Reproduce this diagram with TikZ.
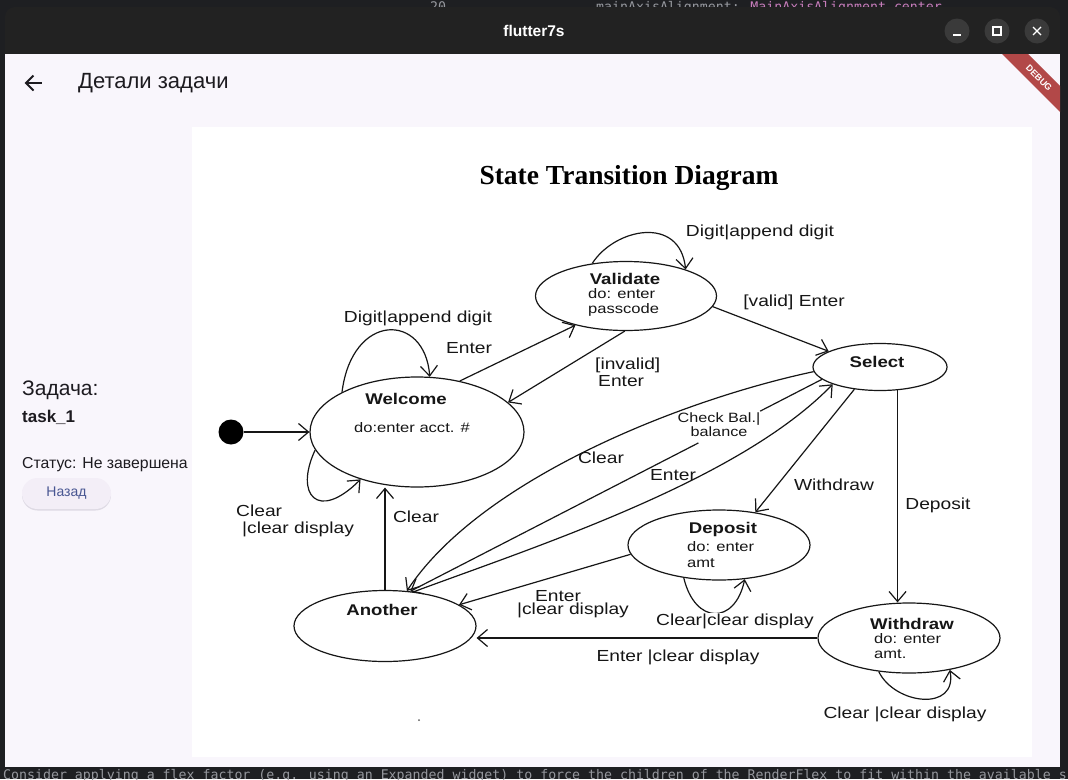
\documentclass[tikz,border=0pt]{standalone}
\usepackage{fontspec}
\setmainfont{Liberation Sans}
\newfontfamily\dgf{Liberation Sans}[FakeStretch=1.2]
\newfontfamily\ttlf{Liberation Serif}
\newfontfamily\uif{Liberation Sans}
\newfontfamily\monof{DejaVu Sans Mono}
\usetikzlibrary{shapes.geometric,arrows.meta,calc}
\definecolor{edbg}{RGB}{30,31,34}
\definecolor{tbar}{RGB}{34,34,34}
\definecolor{tbtn}{RGB}{58,58,58}
\definecolor{appbg}{RGB}{249,246,252}
\definecolor{uitext}{RGB}{29,27,32}
\definecolor{ink}{RGB}{22,22,22}
\definecolor{btnbg}{RGB}{243,238,247}
\definecolor{btnsh}{RGB}{222,218,228}
\definecolor{btntx}{RGB}{72,86,146}
\definecolor{dbg}{RGB}{178,72,72}
\definecolor{codegrey}{RGB}{150,152,158}
\definecolor{codepurple}{RGB}{199,125,187}
\begin{document}
\begin{tikzpicture}[x=1pt,y=-1pt,
  st/.style={ellipse, draw=ink, line width=1.2pt, inner sep=0pt},
  lineonly/.style={draw=ink, line width=1.2pt},
  arr/.style={draw=ink, line width=1.2pt, -{Straight Barb[length=10pt,width=17pt,line width=1.2pt]}},
  lbl/.style={font=\dgf\fontsize{16}{17}\selectfont, text=ink, inner sep=0pt},
  lblsm/.style={font=\dgf\fontsize{13.5}{14}\selectfont, text=ink, inner sep=0pt},
  sname/.style={font=\dgf\bfseries\fontsize{15.5}{17}\selectfont, text=ink, inner sep=0pt},
  sdo/.style={font=\dgf\fontsize{13.8}{15}\selectfont, text=ink, inner sep=0pt, align=left},
  uitx/.style={text=uitext, inner sep=0pt, anchor=west},
  codetx/.style={font=\monof\fontsize{13.25}{14}\selectfont, text=codegrey, inner sep=0pt, anchor=base west},
  wbtn/.style={circle, fill=tbtn, minimum size=25pt, inner sep=0pt},
]
\useasboundingbox (0,0) rectangle (1068,779);
\fill[edbg] (0,0) rectangle (1068,779);
% editor text behind the window
\begin{scope}
\clip (0,0) rectangle (1068,779);
\node[codetx] (linenum) at (430,11) {20};
\node[codetx] (codetop) at (596,11) {mainAxisAlignment: \textcolor{codepurple}{MainAxisAlignment.center}};
\node[codetx] (codebot) at (3,779) {Consider applying a flex factor (e.g. using an Expanded widget) to force the children of the RenderFlex to fit within the available s};
\end{scope}
% window
\fill[tbar, rounded corners=10pt] (5,7) rectangle (1060,70);
\fill[appbg] (5,54) rectangle (1060,767);
\node[font=\uif\bfseries\fontsize{15.5}{16}\selectfont, text=white, inner sep=0pt] (wtitle) at (534,31) {flutter7s};
\node[wbtn] (bmin) at (957,31) {};
\node[wbtn] (bmax) at (997,31) {};
\node[wbtn] (bclose) at (1037,31) {};
\draw[white, line width=1.2pt] ($(bmin)+(-4,4)$) -- ($(bmin)+(4,4)$);
\draw[white, line width=1.1pt] ($(bmax)+(-4,-4)$) rectangle ($(bmax)+(4,4)$);
\draw[white, line width=1.2pt] ($(bclose)+(-4,-4)$) -- ($(bclose)+(4,4)$);
\draw[white, line width=1.2pt] ($(bclose)+(-4,4)$) -- ($(bclose)+(4,-4)$);
% app bar
\draw[uitext, line width=1.8pt] (26,83) -- (42,83);
\draw[uitext, line width=1.8pt, line join=miter] (33.5,75.5) -- (26,83) -- (33.5,90.5);
\node[uitx, font=\uif\fontsize{22}{22}\selectfont] (apptitle) at (78,83) {Детали задачи};
% debug banner
\begin{scope}
\clip (5,54) rectangle (1060,767);
\fill[dbg] (1002,54) -- (1028,54) -- (1062,88) -- (1062,114) -- cycle;
\node[font=\uif\bfseries\fontsize{9}{10}\selectfont, text=white, rotate=-45, inner sep=0pt] (debug) at (1039,78) {DEBUG};
\end{scope}
% left panel
\node[uitx, font=\uif\fontsize{21}{21}\selectfont] (zadacha) at (22,390) {Задача:};
\node[uitx, font=\uif\bfseries\fontsize{17}{17}\selectfont] (taskname) at (22,417) {task\_1};
\node[uitx, font=\uif\fontsize{15.8}{16}\selectfont] (status) at (22,465) {Статус: Не завершена};
\fill[btnsh, rounded corners=15.5pt] (22,479.5) rectangle (111,510.5);
\fill[btnbg, rounded corners=15.5pt] (22,478) rectangle (111,509);
\node[font=\uif\fontsize{14}{14}\selectfont, text=btntx, inner sep=0pt] (back) at (66.5,493.5) {Назад};
% image area
\fill[white] (192,127) rectangle (1032,757);
\node[font=\ttlf\bfseries\fontsize{27.5}{28}\selectfont, text=black, inner sep=0pt] (title) at (629,178) {State Transition Diagram};
% states
\node[st, minimum width=214pt, minimum height=110pt] (welcome) at (417,432) {};
\node[st, minimum width=181pt, minimum height=69pt] (validate) at (626,296) {};
\node[st, minimum width=134pt, minimum height=47pt] (select) at (880,367) {};
\node[st, minimum width=182pt, minimum height=70pt] (deposit) at (719,545) {};
\node[st, minimum width=182pt, minimum height=70pt] (withdraw) at (909,638) {};
\node[st, minimum width=182pt, minimum height=71pt] (another) at (385,626) {};
\node[circle, fill=black, minimum size=25pt, inner sep=0pt] (init) at (231,432) {};
\node[circle, fill=ink!70, minimum size=2pt, inner sep=0pt] (speck) at (419,720) {};
% state texts
\node[sname] (welcomeN) at (406,399) {Welcome};
\node[sdo] (welcomeD) at (412,428) {do:enter acct. \#};
\node[sname] (validateN) at (625,279) {Validate};
\node[sdo, anchor=west] (validateD) at (588,302.5) {do: enter\\passcode};
\node[sname] (selectN) at (877,362) {Select};
\node[sname] (depositN) at (723,529) {Deposit};
\node[sdo, anchor=west] (depositD) at (687,555) {do: enter\\[1pt]amt};
\node[sname] (withdrawN) at (912,624) {Withdraw};
\node[sdo, anchor=west] (withdrawD) at (874,646) {do: enter\\amt.};
\node[sname] (anotherN) at (382,610) {Another};
% transitions
\draw[arr] (init) -- (welcome.180);
\draw[arr] (welcome.152) .. controls (352,312) and (425,312) .. (welcome.77);
\draw[arr] (welcome.50) -- (validate.210);
\draw[arr] (validate.268) -- (welcome.18);
\draw[arr] (validate.136) .. controls (615,228) and (680,215) .. (validate.24);
\draw[arr] (validate.-7) -- (select.163);
\draw[arr] (select.184) .. controls (680,400) and (480,480) .. (another.58);
\draw[lineonly] (select.192) -- ($(select.192)!0.15!(another.54)$);
\draw[arr] ($(select.192)!0.30!(another.54)$) -- (another.54);
\draw[arr] (another.50) .. controls (540,545) and (740,480) .. (select.200);
\draw[arr] (select.221) -- (deposit.42);
\draw[arr] (select.-53) -- (select.-53 |- withdraw.north);
\draw[arr] (deposit.186) -- (another.16);
\draw[arr] (deposit.223) .. controls (695,625) and (735,625) .. (deposit.307);
\draw[arr] (withdraw.west) -- (withdraw.west -| another.east);
\draw[arr] (withdraw.228) .. controls (895,705) and (958,712) .. (withdraw.322);
\draw[arr] (another.north) -- (another.north |- welcome.south);
\draw[arr] (welcome.190) .. controls (294,495) and (318,522) .. (welcome.220);
% transition labels
\node[lbl] (l1) at (418,318) {Digit|append digit};
\node[lbl] (l2) at (469,348) {Enter};
\node[lbl] (l3) at (760,232) {Digit|append digit};
\node[lbl] (l4) at (794,302) {[valid] Enter};
\node[lbl, align=left, anchor=west] (l5) at (595,372) {[invalid]\\\hspace*{3pt}Enter};
\node[lblsm, align=center] (l6) at (719,425) {Check Bal.|\\balance};
\node[lbl] (l7) at (601,458) {Clear};
\node[lbl] (l8) at (673,475) {Enter};
\node[lbl] (l9) at (834,485) {Withdraw};
\node[lbl] (l10) at (938,505) {Deposit};
\node[lbl] (l11) at (558,596) {Enter};
\node[lbl] (l12) at (573,610) {|clear display};
\node[lbl, fill=white, inner sep=1pt] (l13) at (735,621) {Clear|clear display};
\node[lbl] (l14) at (678,657) {Enter |clear display};
\node[lbl] (l15) at (905,714) {Clear |clear display};
\node[lbl] (l16) at (416,517) {Clear};
\node[lbl, align=left, anchor=west] (l17) at (236,521) {Clear\\\hspace*{6pt}|clear display};
\end{tikzpicture}
\end{document}
